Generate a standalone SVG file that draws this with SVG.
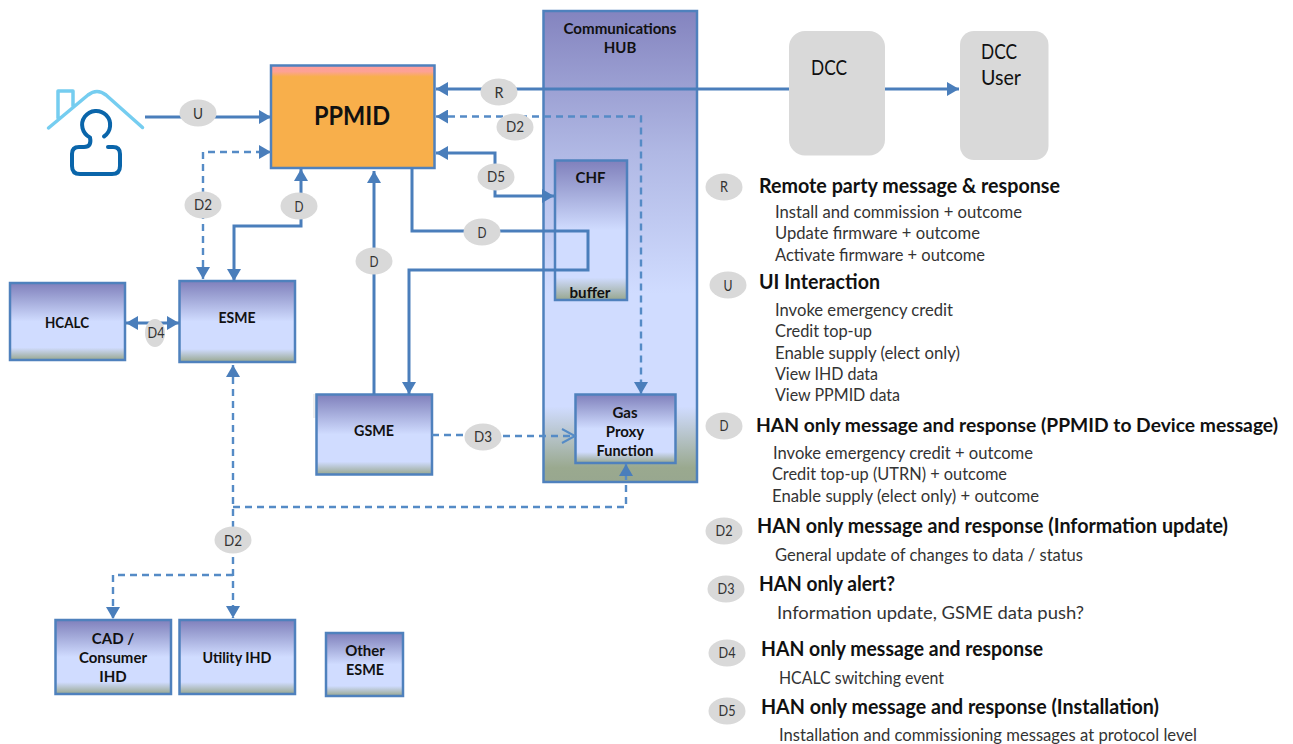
<svg xmlns="http://www.w3.org/2000/svg" width="1293" height="744" viewBox="0 0 1293 744">
<style>
text{font-family:"Lato","Liberation Sans",sans-serif;fill:#111}
.n{fill:url(#g);stroke:#4f81bd;stroke-width:2.5}
.nt{font-size:15px;font-weight:700;text-anchor:middle}
.c{fill:none;stroke:#4a7ebb;stroke-width:3}
.d{fill:none;stroke:#558bc6;stroke-width:2.400;stroke-dasharray:7 5}
.e{fill:#d9d9d9}
.l{font-size:16px;text-anchor:middle;fill:#333}
.h{font-size:20px;font-weight:700}
.b{font-size:17px;fill:#333}
.dcc{fill:#d9d9d9}
.dt{font-size:21px}
</style>
<defs>
<linearGradient id="g" x1="0" y1="0" x2="0" y2="1"><stop offset="0" stop-color="#8080bc"/><stop offset=".2" stop-color="#9fa5d6"/><stop offset=".5" stop-color="#d0dcff"/><stop offset=".84" stop-color="#d0dcff"/><stop offset="1" stop-color="#98a78f"/></linearGradient>
<linearGradient id="hg" x1="0" y1="0" x2="0" y2="1"><stop offset="0" stop-color="#8484bf"/><stop offset=".3" stop-color="#b0b8e4"/><stop offset=".6" stop-color="#d0dcff"/><stop offset=".84" stop-color="#d0dcff"/><stop offset=".97" stop-color="#9aa98f"/><stop offset="1" stop-color="#98a78f"/></linearGradient>
<linearGradient id="pg" x1="0" y1="0" x2="0" y2="1"><stop offset="0" stop-color="#ff9d9d"/><stop offset=".06" stop-color="#fda294"/><stop offset=".11" stop-color="#f8af4b"/><stop offset="1" stop-color="#f8af4b"/></linearGradient>
<marker id="a" markerUnits="userSpaceOnUse" markerWidth="13" markerHeight="14" refX="12" refY="7" orient="auto-start-reverse"><path d="M0 0L12 7L0 14Z" fill="#4a7ebb"/></marker>
<marker id="o" markerUnits="userSpaceOnUse" markerWidth="16" markerHeight="18" refX="14" refY="8" orient="auto"><path d="M1 1L14 8L1 15" fill="none" stroke="#558bc6" stroke-width="2"/></marker>
</defs>
<g id="hub"><rect x="543.500" y="11" width="153.500" height="471" fill="url(#hg)" stroke="#4f81bd" stroke-width="2.500"/><text class="nt" x="620" y="34" textLength="113" lengthAdjust="spacingAndGlyphs">Communications</text><text class="nt" x="620" y="53">HUB</text></g>
<g id="chf"><rect class="n" x="555" y="160.500" width="72" height="139.500"/><text class="nt" x="590.500" y="183">CHF</text><text class="nt" x="590" y="298" textLength="41" lengthAdjust="spacingAndGlyphs">buffer</text></g>
<g id="gpf"><rect class="n" x="575.500" y="394.500" width="100" height="68.500"/><text class="nt" x="625" y="418">Gas</text><text class="nt" x="625" y="437">Proxy</text><text class="nt" x="625" y="456" textLength="57" lengthAdjust="spacingAndGlyphs">Function</text></g>
<g id="ppmid"><rect x="271" y="65.500" width="163.500" height="102.500" fill="url(#pg)" stroke="#4f81bd" stroke-width="2.500"/><text x="352" y="125" font-size="26" font-weight="700" text-anchor="middle" textLength="76" lengthAdjust="spacingAndGlyphs">PPMID</text></g>
<g id="hcalc"><rect class="n" x="10" y="283" width="115" height="77"/><text class="nt" x="67" y="328" textLength="44" lengthAdjust="spacingAndGlyphs">HCALC</text></g>
<g id="esme"><rect class="n" x="179.500" y="281" width="115.500" height="81"/><text class="nt" x="237" y="323" textLength="37" lengthAdjust="spacingAndGlyphs">ESME</text></g>
<g id="gsme"><rect x="313" y="394" width="4" height="24" fill="#eeeeee"/><rect class="n" x="316.500" y="394.500" width="115.500" height="80"/><text class="nt" x="374" y="436" textLength="40" lengthAdjust="spacingAndGlyphs">GSME</text></g>
<g id="cad"><rect class="n" x="55.500" y="620" width="115.500" height="74"/><text class="nt" x="113" y="644">CAD /</text><text class="nt" x="113" y="663" textLength="68" lengthAdjust="spacingAndGlyphs">Consumer</text><text class="nt" x="113" y="682">IHD</text></g>
<g id="utility"><rect class="n" x="179.500" y="620" width="115.500" height="74"/><text class="nt" x="237" y="663" textLength="69" lengthAdjust="spacingAndGlyphs">Utility IHD</text></g>
<g id="other"><rect class="n" x="326" y="633" width="77" height="63"/><text class="nt" x="365" y="656">Other</text><text class="nt" x="365" y="675" textLength="38" lengthAdjust="spacingAndGlyphs">ESME</text></g>
<g id="dcc"><rect class="dcc" x="789" y="31" width="96" height="124.500" rx="16"/><text class="dt" x="811" y="75" textLength="36" lengthAdjust="spacingAndGlyphs">DCC</text></g>
<g id="dcc-user"><rect class="dcc" x="960" y="31" width="88.500" height="129" rx="14"/><text class="dt" x="981" y="59" textLength="36" lengthAdjust="spacingAndGlyphs">DCC</text><text class="dt" x="981" y="85" textLength="40" lengthAdjust="spacingAndGlyphs">User</text></g>
<g id="user-icon" fill="none" stroke-linecap="round" stroke-linejoin="round">
<path d="M48.500 128L88 95Q97 88 106 95L142.500 127.500M58 118V91H73V106" stroke="#75cdf0" stroke-width="3.500"/>
<path d="M104 136.500A14 14 0 1 0 90 137.500Q92 147 84 147H79Q72 147 72 154V166Q72 174 80 174H112Q120 174 120 166V154Q120 147 113 147H108" stroke="#0a65aa" stroke-width="4"/>
</g>
<g id="connectors">
<path class="c" d="M145 117H271" marker-end="url(#a)"/>
<path class="d" d="M203 279V152H271" marker-start="url(#a)" marker-end="url(#a)"/>
<path class="c" d="M234 281V226H301V169" marker-start="url(#a)" marker-end="url(#a)"/>
<path class="c" d="M126 323H179" marker-start="url(#a)" marker-end="url(#a)"/>
<path class="c" d="M374 394V171" marker-end="url(#a)"/>
<path class="c" d="M412 168V231H588V270H409V394" marker-end="url(#a)"/>
<path class="c" d="M789 89H436" marker-end="url(#a)"/>
<path class="c" d="M885 89H959" marker-end="url(#a)"/>
<path class="d" d="M436 116.500H641V394" marker-start="url(#a)" marker-end="url(#a)"/>
<path class="c" d="M436 153H495V196H554" marker-start="url(#a)" marker-end="url(#a)"/>
<path class="d" d="M432 435H484V436H575" marker-end="url(#o)"/>
<path class="d" d="M233 365V618" marker-start="url(#a)" marker-end="url(#a)"/>
<path class="d" d="M233 507H626V464" marker-end="url(#a)"/>
<path class="d" d="M233 575H113V619" marker-end="url(#a)"/>
</g>
<g id="connector-labels">
<ellipse class="e" cx="198" cy="113" rx="18.500" ry="13.500"/><text class="l" x="198" y="119" textLength="10" lengthAdjust="spacingAndGlyphs">U</text>
<ellipse class="e" cx="203" cy="205" rx="18.500" ry="13.500"/><text class="l" x="203" y="210" textLength="18" lengthAdjust="spacingAndGlyphs">D2</text>
<ellipse class="e" cx="299" cy="206" rx="18.500" ry="13.500"/><text class="l" x="299" y="212" textLength="9" lengthAdjust="spacingAndGlyphs">D</text>
<ellipse class="e" cx="155" cy="333" rx="10" ry="14"/><text class="l" x="156" y="338" textLength="17" lengthAdjust="spacingAndGlyphs">D4</text>
<ellipse class="e" cx="374" cy="261" rx="18.500" ry="13.500"/><text class="l" x="374" y="267" textLength="9" lengthAdjust="spacingAndGlyphs">D</text>
<ellipse class="e" cx="482" cy="232" rx="18.500" ry="13.500"/><text class="l" x="482" y="238" textLength="9" lengthAdjust="spacingAndGlyphs">D</text>
<ellipse class="e" cx="499" cy="92" rx="18.500" ry="13.500"/><text class="l" x="499" y="98" textLength="9" lengthAdjust="spacingAndGlyphs">R</text>
<ellipse class="e" cx="515" cy="127" rx="18.500" ry="13.500"/><text class="l" x="515" y="132" textLength="18" lengthAdjust="spacingAndGlyphs">D2</text>
<ellipse class="e" cx="496" cy="177" rx="18.500" ry="13.500"/><text class="l" x="496" y="182" textLength="18" lengthAdjust="spacingAndGlyphs">D5</text>
<ellipse class="e" cx="483" cy="437" rx="18.500" ry="13.500"/><text class="l" x="483" y="442" textLength="18" lengthAdjust="spacingAndGlyphs">D3</text>
<ellipse class="e" cx="233" cy="540" rx="18.500" ry="13.500"/><text class="l" x="233" y="546" textLength="18" lengthAdjust="spacingAndGlyphs">D2</text>
</g>
<g id="legend">
<ellipse class="e" cx="724" cy="187" rx="18.500" ry="13.500"/><text class="l" x="724" y="192" textLength="8" lengthAdjust="spacingAndGlyphs">R</text>
<ellipse class="e" cx="728" cy="285" rx="18.500" ry="13.500"/><text class="l" x="728" y="291" textLength="9" lengthAdjust="spacingAndGlyphs">U</text>
<ellipse class="e" cx="724" cy="426" rx="18.500" ry="13.500"/><text class="l" x="724" y="431" textLength="9" lengthAdjust="spacingAndGlyphs">D</text>
<ellipse class="e" cx="724" cy="531" rx="18.500" ry="13.500"/><text class="l" x="724" y="536" textLength="17" lengthAdjust="spacingAndGlyphs">D2</text>
<ellipse class="e" cx="726" cy="589" rx="18.500" ry="13.500"/><text class="l" x="726" y="594" textLength="17" lengthAdjust="spacingAndGlyphs">D3</text>
<ellipse class="e" cx="727" cy="653" rx="18.500" ry="13.500"/><text class="l" x="727" y="658" textLength="17" lengthAdjust="spacingAndGlyphs">D4</text>
<ellipse class="e" cx="727" cy="711" rx="18.500" ry="13.500"/><text class="l" x="727" y="716" textLength="17" lengthAdjust="spacingAndGlyphs">D5</text>
<text class="h" x="759" y="193" textLength="301" lengthAdjust="spacingAndGlyphs">Remote party message &amp; response</text>
<text class="b" x="775" y="218" textLength="247" lengthAdjust="spacingAndGlyphs">Install and commission + outcome</text>
<text class="b" x="775" y="239" textLength="205" lengthAdjust="spacingAndGlyphs">Update firmware + outcome</text>
<text class="b" x="775" y="261" textLength="210" lengthAdjust="spacingAndGlyphs">Activate firmware + outcome</text>
<text class="h" x="759" y="289" textLength="121" lengthAdjust="spacingAndGlyphs">UI Interaction</text>
<text class="b" x="775" y="316" textLength="178" lengthAdjust="spacingAndGlyphs">Invoke emergency credit</text>
<text class="b" x="775" y="337" textLength="97" lengthAdjust="spacingAndGlyphs">Credit top-up</text>
<text class="b" x="775" y="359" textLength="185" lengthAdjust="spacingAndGlyphs">Enable supply (elect only)</text>
<text class="b" x="775" y="380" textLength="103" lengthAdjust="spacingAndGlyphs">View IHD data</text>
<text class="b" x="775" y="401" textLength="125" lengthAdjust="spacingAndGlyphs">View PPMID data</text>
<text class="h" x="756" y="432" style="font-size:19px" textLength="522" lengthAdjust="spacingAndGlyphs">HAN only message and response (PPMID to Device message)</text>
<text class="b" x="773" y="459" textLength="260" lengthAdjust="spacingAndGlyphs">Invoke emergency credit + outcome</text>
<text class="b" x="772" y="480" textLength="235" lengthAdjust="spacingAndGlyphs">Credit top-up (UTRN) + outcome</text>
<text class="b" x="772" y="502" textLength="267" lengthAdjust="spacingAndGlyphs">Enable supply (elect only) + outcome</text>
<text class="h" x="757" y="533" textLength="471" lengthAdjust="spacingAndGlyphs">HAN only message and response (Information update)</text>
<text class="b" x="775" y="561" textLength="308" lengthAdjust="spacingAndGlyphs">General update of changes to data / status</text>
<text class="h" x="759" y="591" textLength="136" lengthAdjust="spacingAndGlyphs">HAN only alert?</text>
<text class="b" x="777" y="619" textLength="307" lengthAdjust="spacingAndGlyphs">Information update, GSME data push?</text>
<text class="h" x="761" y="656" textLength="282" lengthAdjust="spacingAndGlyphs">HAN only message and response</text>
<text class="b" x="779" y="684" textLength="165" lengthAdjust="spacingAndGlyphs">HCALC switching event</text>
<text class="h" x="761" y="714" textLength="398" lengthAdjust="spacingAndGlyphs">HAN only message and response (Installation)</text>
<text class="b" x="779" y="741" textLength="418" lengthAdjust="spacingAndGlyphs">Installation and commissioning messages at protocol level</text>
</g>
</svg>
